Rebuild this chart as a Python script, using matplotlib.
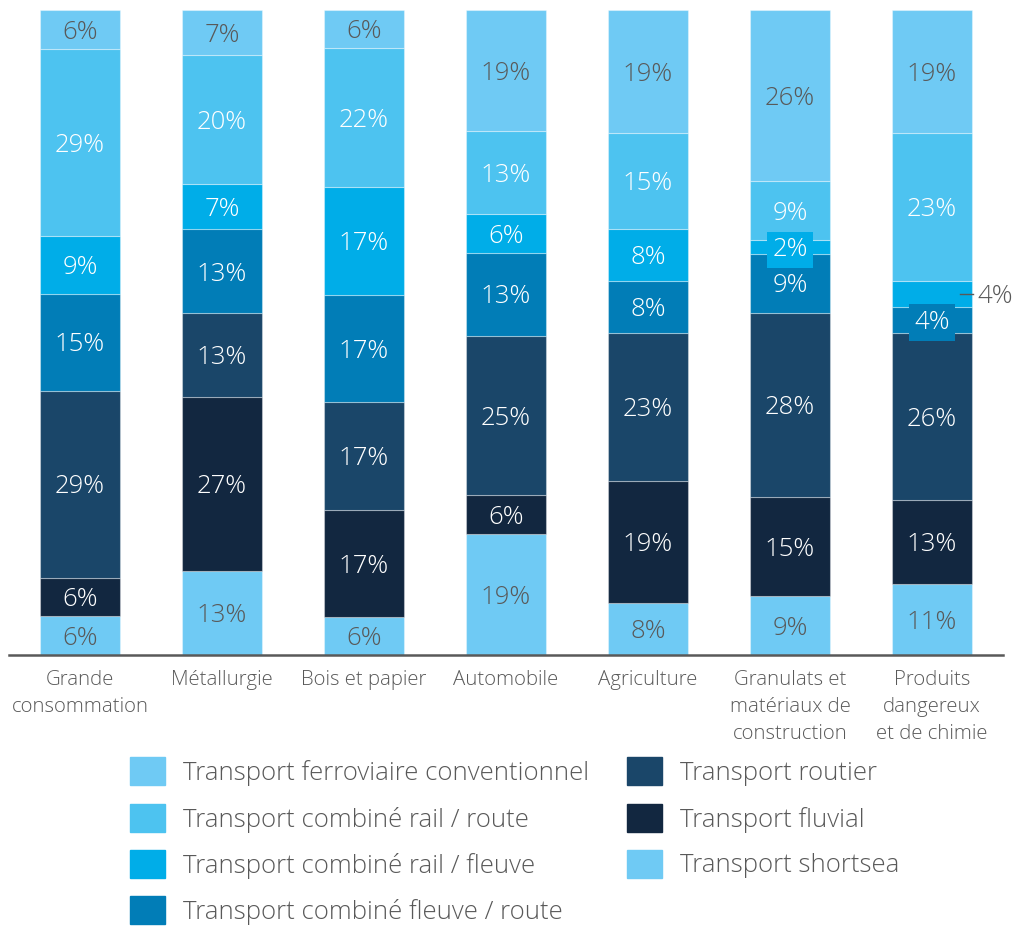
import numpy as np
import matplotlib
matplotlib.use("Agg")
import matplotlib.pyplot as plt
from matplotlib.patches import Rectangle

plt.rcParams['font.family'] = ['Open Sans', 'DejaVu Sans']

categories = ["Grande\nconsommation", "Métallurgie", "Bois et papier", "Automobile",
              "Agriculture", "Granulats et\nmatériaux de\nconstruction",
              "Produits\ndangereux\net de chimie"]

# stack order, bottom -> top
shortsea = [6, 13, 6, 19, 8, 9, 11]
fluvial = [6, 27, 17, 6, 19, 15, 13]
routier = [29, 13, 17, 25, 23, 28, 26]
fleuve_route = [15, 13, 17, 13, 8, 9, 4]
rail_fleuve = [9, 7, 17, 6, 8, 2, 4]
rail_route = [29, 20, 22, 13, 15, 9, 23]
ferroviaire = [6, 7, 6, 19, 19, 26, 19]

series_names = ["Transport shortsea", "Transport fluvial", "Transport routier",
                "Transport combiné fleuve / route", "Transport combiné rail / fleuve",
                "Transport combiné rail / route", "Transport ferroviaire conventionnel"]
series = [shortsea, fluvial, routier, fleuve_route, rail_fleuve, rail_route, ferroviaire]
colors = ["#6FCAF4", "#122740", "#1A4669", "#017DB7", "#00ADE8", "#4DC3F0", "#6FCAF4"]
text_colors = ["#595959", "white", "white", "white", "white", "white", "#595959"]

GRAY = "#595959"
W, H = 1017, 926
fig = plt.figure(figsize=(W / 100, H / 100), dpi=100)
ax = fig.add_axes([9 / W, 271 / H, 994 / W, 645 / H])

data = np.array(series, dtype=float)
shares = data / data.sum(axis=0) * 100
x = np.arange(len(categories))
bottom = np.zeros(len(categories))
for k, (vals, col, tc) in enumerate(zip(shares, colors, text_colors)):
    ax.bar(x, vals, width=0.56, bottom=bottom, color=col,
           edgecolor=(1, 1, 1, 0.35), linewidth=0.8)
    for i in range(len(x)):
        label = f"{series[k][i]}%"
        yc = bottom[i] + vals[i] / 2
        if k == 4 and i == 6:
            # too thin, label outside on the right
            ax.plot([x[i] + 0.20, x[i] + 0.29], [yc, yc], color=GRAY, lw=1, zorder=3)
            ax.annotate(label, (x[i] + 0.32, yc), xytext=(0, -2), textcoords='offset points',
                        color=GRAY, fontsize=18.5, fontweight='light',
                        ha='left', va='center', annotation_clip=False)
            continue
        bbox = None
        if vals[i] < 5:
            bbox = dict(boxstyle="square,pad=0.22", fc=col, ec='none')
        ax.annotate(label, (x[i], yc), xytext=(0, -2), textcoords='offset points',
                    color=tc, fontsize=18.5, fontweight='light',
                    ha='center', va='center', bbox=bbox)
    bottom += vals

ax.set_xlim(-0.5, len(categories) - 0.5)
ax.set_ylim(0, 100)
for s in ['top', 'right', 'left']:
    ax.spines[s].set_visible(False)
ax.spines['bottom'].set_color(GRAY)
ax.spines['bottom'].set_linewidth(1.8)
ax.set_yticks([])
ax.set_xticks(x)
ax.set_xticklabels(categories, fontsize=14.7, color=GRAY, fontweight='light',
                   linespacing=1.45, va='top')
ax.tick_params(axis='x', length=0, pad=11)

# legend, two columns
legend_order = [6, 5, 4, 3, 2, 1, 0]
rows_y = [771, 818, 864, 910]
for j, k in enumerate(legend_order):
    col_x = 130 if j < 4 else 627
    yy = rows_y[j % 4 if j < 4 else j - 4]
    fig.add_artist(Rectangle((col_x / W, 1 - (yy + 14) / H), 35 / W, 28 / H,
                             transform=fig.transFigure, color=colors[k]))
    fig.text((col_x + 53) / W, 1 - (yy + 2) / H, series_names[k], fontsize=18.5,
             fontweight='light', color=GRAY, ha='left', va='center')

fig.savefig("out.png", dpi=100)
